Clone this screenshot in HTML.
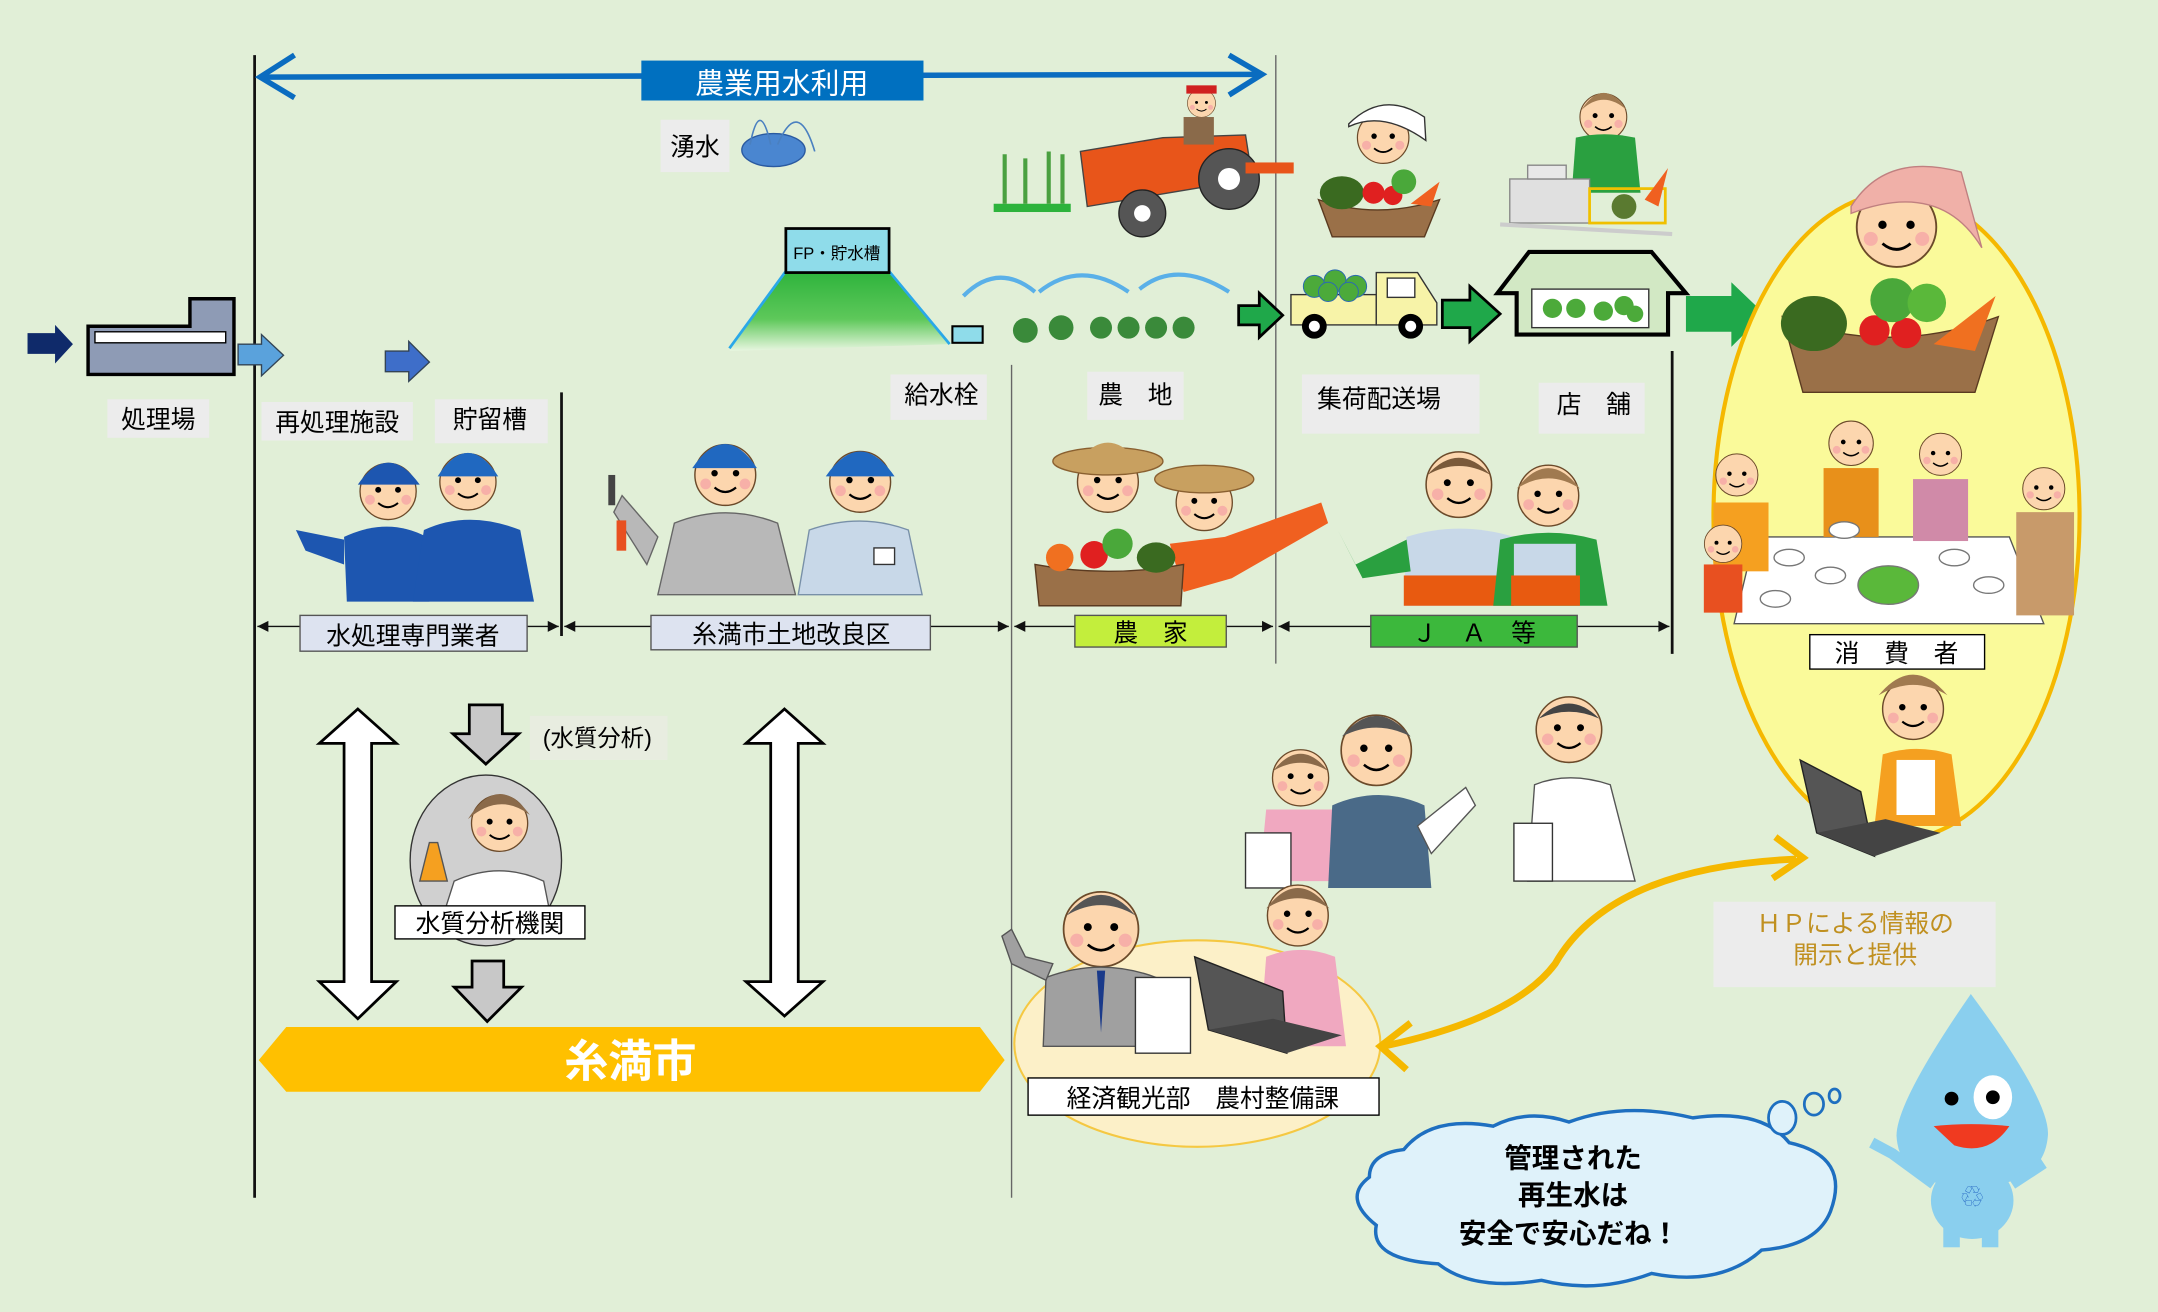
<!DOCTYPE html>
<html><head><meta charset="utf-8">
<style>
html,body{margin:0;padding:0;background:#e1efd7;}
svg{display:block;}
text{font-family:"Liberation Sans","Noto Sans CJK JP",sans-serif;}
</style></head>
<body>
<svg width="2158" height="1312" viewBox="0 0 1568 953" preserveAspectRatio="none" xmlns="http://www.w3.org/2000/svg">
<defs>
<g id="face">
  <circle cx="0" cy="0" r="17" fill="#fcd6ae" stroke="#6b4a2a" stroke-width="0.8"/>
  <circle cx="-6" cy="-1" r="1.8" fill="#000"/><circle cx="6" cy="-1" r="1.8" fill="#000"/>
  <path d="M-6,7 Q0,12 6,7" fill="none" stroke="#000" stroke-width="1.2"/>
  <circle cx="-11" cy="5" r="3" fill="#f7b0a8"/><circle cx="11" cy="5" r="3" fill="#f7b0a8"/>
</g>
</defs>
<rect x="0" y="0" width="1568" height="953" fill="#e1efd7"/>

<!-- vertical lines -->
<line x1="185" y1="40" x2="185" y2="870" stroke="#111" stroke-width="2"/>
<line x1="408" y1="285" x2="408" y2="462" stroke="#111" stroke-width="2"/>
<line x1="735" y1="265" x2="735" y2="870" stroke="#666" stroke-width="1"/>
<line x1="927" y1="40" x2="927" y2="482" stroke="#666" stroke-width="1"/>
<line x1="1215" y1="255" x2="1215" y2="475" stroke="#111" stroke-width="2"/>

<!-- top blue double arrow -->
<line x1="190" y1="56" x2="915" y2="54" stroke="#0a6cc0" stroke-width="4"/>
<path d="M214,40 L189,56 L214,71" fill="none" stroke="#0a6cc0" stroke-width="4"/>
<path d="M893,40 L917,54 L893,69" fill="none" stroke="#0a6cc0" stroke-width="4"/>
<rect x="466" y="44" width="205" height="29" fill="#0070c0"/>
<text x="568" y="68" font-size="21" fill="#fff" text-anchor="middle">農業用水利用</text>

<!-- 湧水 -->
<rect x="480" y="87" width="50" height="38" fill="#ececec"/>
<text x="505" y="113" font-size="18" text-anchor="middle">湧水</text>
<ellipse cx="562" cy="109" rx="23" ry="12" fill="#4a86d0" stroke="#2a5aa0"/>
<path d="M545,105 Q552,70 560,105 M565,105 Q580,70 592,110" fill="none" stroke="#4a80c0" stroke-width="1.2"/>

<!-- treatment plant -->
<path d="M20,242 L40,242 L40,236 L53,250 L40,264 L40,257 L20,257 Z" fill="#0f2a6a"/>
<path d="M64,237 L138,237 L138,217 L170,217 L170,272 L64,272 Z" fill="#8e9bb5" stroke="#000" stroke-width="2.5"/>
<rect x="69" y="241" width="95" height="8" fill="#fff" stroke="#000"/>
<path d="M173,250 L190,250 L190,243 L206,258 L190,273 L190,265 L173,265 Z" fill="#5aa2dc" stroke="#345"/>
<path d="M280,255 L297,255 L297,248 L312,263 L297,277 L297,270 L280,270 Z" fill="#3e6ec9" stroke="#345"/>
<rect x="78" y="290" width="74" height="28" fill="#ececec"/>
<text x="115" y="311" font-size="18" text-anchor="middle">処理場</text>
<rect x="190" y="292" width="110" height="28" fill="#ececec"/>
<text x="245" y="313" font-size="18" text-anchor="middle">再処理施設</text>
<rect x="316" y="290" width="82" height="32" fill="#ececec"/>
<text x="356" y="311" font-size="18" text-anchor="middle">貯留槽</text>

<!-- FP tank -->
<defs><linearGradient id="gr" x1="0" y1="0" x2="0" y2="1"><stop offset="0" stop-color="#2db33c"/><stop offset="0.6" stop-color="#5ec85a"/><stop offset="1" stop-color="#e8f6e0"/></linearGradient></defs>
<path d="M571,197 L646,197 L690,250 L530,255 Z" fill="url(#gr)"/>
<path d="M571,197 L530,253 M646,197 L690,250" stroke="#2aa8e8" stroke-width="2"/>
<rect x="571" y="166" width="75" height="32" fill="#8fdcea" stroke="#000" stroke-width="2"/>
<text x="608" y="188" font-size="12" text-anchor="middle">FP・貯水槽</text>
<rect x="692" y="237" width="22" height="12" fill="#8fdcea" stroke="#000" stroke-width="1.5"/>

<!-- sprinklers & crops -->
<g fill="none" stroke="#5ab0e8" stroke-width="3">
<path d="M700,215 Q725,190 752,212"/><path d="M755,212 Q785,188 820,212"/><path d="M828,210 Q855,188 893,212"/>
</g>
<g fill="#3a8a3a"><circle cx="745" cy="240" r="9"/><circle cx="771" cy="238" r="9"/><circle cx="800" cy="238" r="8"/><circle cx="820" cy="238" r="8"/><circle cx="840" cy="238" r="8"/><circle cx="860" cy="238" r="8"/></g>
<rect x="722" y="148" width="56" height="6" fill="#2db33c"/>
<g stroke="#4aa040" stroke-width="3"><line x1="730" y1="148" x2="730" y2="112"/><line x1="745" y1="148" x2="745" y2="115"/><line x1="762" y1="148" x2="762" y2="110"/><line x1="772" y1="148" x2="772" y2="112"/></g>
<!-- tractor -->
<path d="M785,110 L845,100 L905,98 L910,130 L850,140 L790,150 Z" fill="#e8551a" stroke="#444"/>
<circle cx="830" cy="155" r="17" fill="#555" stroke="#222"/><circle cx="830" cy="155" r="6" fill="#fff"/>
<circle cx="893" cy="130" r="22" fill="#555" stroke="#222"/><circle cx="893" cy="130" r="8" fill="#fff"/>
<rect x="905" y="118" width="35" height="8" fill="#e8551a"/>
<use href="#face" transform="translate(873,75) scale(0.6)"/>
<rect x="862" y="62" width="22" height="6" fill="#d02020"/>
<rect x="860" y="85" width="22" height="20" fill="#8a6a4a"/>

<!-- 給水栓 / 農地 -->
<rect x="647" y="272" width="70" height="33" fill="#ececec"/>
<text x="684" y="293" font-size="18" text-anchor="middle">給水栓</text>
<rect x="790" y="270" width="70" height="35" fill="#ececec"/>
<text x="825" y="293" font-size="18" text-anchor="middle">農　地</text>

<!-- green arrows -->
<path d="M900,222 L915,222 L915,213 L932,229 L915,245 L915,236 L900,236 Z" fill="#1fa84a" stroke="#000" stroke-width="2"/>
<path d="M1048,218 L1068,218 L1068,208 L1090,228 L1068,248 L1068,238 L1048,238 Z" fill="#1fa84a" stroke="#000" stroke-width="2"/>
<path d="M1225,215 L1258,215 L1258,205 L1282,228 L1258,252 L1258,241 L1225,241 Z" fill="#1fa84a"/>

<!-- truck -->
<rect x="938" y="214" width="62" height="22" fill="#f7f3a8" stroke="#333"/>
<path d="M1000,198 L1030,198 L1044,220 L1044,236 L1000,236 Z" fill="#f7f3a8" stroke="#333"/>
<rect x="1008" y="202" width="20" height="14" fill="#fff" stroke="#333"/>
<circle cx="955" cy="237" r="9" fill="#000"/><circle cx="955" cy="237" r="4" fill="#fff"/>
<circle cx="1025" cy="237" r="9" fill="#000"/><circle cx="1025" cy="237" r="4" fill="#fff"/>
<g fill="#4caa3a" stroke="#2a6ab0" stroke-width="0.7"><circle cx="955" cy="208" r="8"/><circle cx="970" cy="204" r="8"/><circle cx="985" cy="208" r="8"/><circle cx="965" cy="212" r="7"/><circle cx="980" cy="212" r="7"/></g>
<!-- store building -->
<path d="M1088,213 L1111,183 L1200,183 L1225,213 L1212,213 L1212,243 L1102,243 L1102,213 Z" fill="#d2e8c4" stroke="#000" stroke-width="3"/>
<rect x="1113" y="210" width="85" height="28" fill="#fff" stroke="#333"/>
<g fill="#4caa3a"><circle cx="1128" cy="224" r="7"/><circle cx="1145" cy="224" r="7"/><circle cx="1165" cy="226" r="7"/><circle cx="1180" cy="222" r="7"/><circle cx="1188" cy="228" r="6"/></g>

<!-- JA woman with basket -->
<use href="#face" transform="translate(1005,100) scale(1.1)"/>
<path d="M980,90 Q1005,65 1035,85 L1036,102 Q1005,80 980,92 Z" fill="#fff" stroke="#333"/>
<path d="M958,145 Q1000,160 1046,145 L1035,172 L968,172 Z" fill="#9a7048" stroke="#5a3a20"/>
<ellipse cx="975" cy="140" rx="16" ry="12" fill="#3a6a20"/>
<circle cx="998" cy="140" r="8" fill="#e02020"/><circle cx="1012" cy="142" r="7" fill="#e02020"/>
<circle cx="1020" cy="132" r="9" fill="#4aa83a"/><path d="M1025,148 L1046,132 L1040,150 Z" fill="#f06020"/>
<!-- cashier -->
<use href="#face" transform="translate(1165,85) scale(1.0)"/>
<path d="M1149,80 Q1165,55 1182,80 Q1165,65 1149,80 Z" fill="#a07a50"/>
<path d="M1145,100 Q1165,95 1188,100 L1192,140 L1142,140 Z" fill="#2aa040"/>
<rect x="1097" y="130" width="58" height="32" fill="#e0e0e0" stroke="#888"/>
<rect x="1110" y="120" width="28" height="10" fill="#e8e8e8" stroke="#888"/>
<rect x="1155" y="137" width="55" height="25" fill="none" stroke="#f0c000" stroke-width="2"/>
<circle cx="1180" cy="150" r="9" fill="#5a7a30"/><path d="M1195,145 L1212,122 L1205,150 Z" fill="#f06020"/>
<path d="M1090,163 L1215,170" stroke="#ccc" stroke-width="3"/>

<!-- 集荷配送場 / 店舗 -->
<rect x="946" y="272" width="129" height="43" fill="#ececec"/>
<text x="1002" y="296" font-size="18" text-anchor="middle">集荷配送場</text>
<rect x="1118" y="278" width="77" height="37" fill="#ececec"/>
<text x="1158" y="300" font-size="18" text-anchor="middle">店　舗</text>

<!-- consumer ellipse -->
<ellipse cx="1378" cy="375" rx="133" ry="235" fill="#fafa9a" stroke="#f5b800" stroke-width="3"/>
<use href="#face" transform="translate(1378,165) scale(1.7)"/>
<path d="M1345,150 Q1370,110 1425,125 L1440,180 Q1410,130 1345,155 Z" fill="#f0b0a8" stroke="#c08080"/>
<path d="M1295,230 Q1370,260 1452,230 L1435,285 L1310,285 Z" fill="#9a7048" stroke="#5a3a20"/>
<ellipse cx="1318" cy="235" rx="24" ry="20" fill="#3a6a20"/>
<circle cx="1362" cy="240" r="11" fill="#e02020"/><circle cx="1385" cy="242" r="11" fill="#e02020"/>
<circle cx="1375" cy="218" r="16" fill="#4aa83a"/><circle cx="1400" cy="220" r="14" fill="#5ab83a"/>
<path d="M1405,250 L1450,215 L1435,255 Z" fill="#f07020"/>
<!-- family table -->
<path d="M1275,390 L1460,390 L1485,453 L1260,453 Z" fill="#fff" stroke="#555"/>
<use href="#face" transform="translate(1262,345) scale(0.9)"/>
<rect x="1245" y="365" width="40" height="50" fill="#f5a020"/>
<use href="#face" transform="translate(1345,322) scale(0.95)"/>
<rect x="1325" y="340" width="40" height="50" fill="#e8901a"/>
<use href="#face" transform="translate(1410,330) scale(0.9)"/>
<rect x="1390" y="348" width="40" height="45" fill="#d08aa8"/>
<use href="#face" transform="translate(1485,355) scale(0.9)"/>
<rect x="1465" y="372" width="42" height="75" fill="#c89a6a"/>
<use href="#face" transform="translate(1252,395) scale(0.8)"/>
<rect x="1238" y="410" width="28" height="35" fill="#e85020"/>
<g fill="#fff" stroke="#777"><ellipse cx="1340" cy="385" rx="11" ry="6"/><ellipse cx="1300" cy="405" rx="11" ry="6"/><ellipse cx="1330" cy="418" rx="11" ry="6"/><ellipse cx="1290" cy="435" rx="11" ry="6"/><ellipse cx="1420" cy="405" rx="11" ry="6"/><ellipse cx="1445" cy="425" rx="11" ry="6"/></g>
<ellipse cx="1372" cy="425" rx="22" ry="14" fill="#5ab83a" stroke="#777"/>
<rect x="1315" y="461" width="127" height="25" fill="#fff" stroke="#000"/>
<text x="1378" y="481" font-size="18" text-anchor="middle">消　費　者</text>
<!-- woman with laptop -->
<use href="#face" transform="translate(1390,515) scale(1.3)"/>
<path d="M1365,505 Q1390,475 1415,505 Q1390,490 1365,505 Z" fill="#a07a50"/>
<path d="M1368,548 Q1392,540 1418,548 L1425,600 L1362,600 Z" fill="#f5a020"/>
<rect x="1378" y="552" width="28" height="40" fill="#fff"/>
<path d="M1308,552 L1352,575 L1362,622 L1320,605 Z" fill="#555" stroke="#222"/>
<path d="M1320,605 L1362,622 L1410,605 L1370,595 Z" fill="#444"/>

<!-- bracket row -->
<g stroke="#111" stroke-width="1">
<line x1="187" y1="455" x2="406" y2="455"/><line x1="410" y1="455" x2="733" y2="455"/>
<line x1="737" y1="455" x2="925" y2="455"/><line x1="929" y1="455" x2="1213" y2="455"/>
</g>
<g fill="#111">
<path d="M187,455 L195,451 L195,459 Z"/><path d="M406,455 L398,451 L398,459 Z"/>
<path d="M410,455 L418,451 L418,459 Z"/><path d="M733,455 L725,451 L725,459 Z"/>
<path d="M737,455 L745,451 L745,459 Z"/><path d="M925,455 L917,451 L917,459 Z"/>
<path d="M929,455 L937,451 L937,459 Z"/><path d="M1213,455 L1205,451 L1205,459 Z"/>
</g>

<!-- workers -->
<g>
<use href="#face" transform="translate(282,357) scale(1.2)"/>
<path d="M260,352 Q282,320 305,352 Z" fill="#1d56b0"/>
<path d="M250,390 Q282,375 310,390 L312,437 L252,437 Z" fill="#1d56b0"/>
<path d="M250,392 L215,385 L222,400 L250,410 Z" fill="#1d56b0"/>
<use href="#face" transform="translate(340,350) scale(1.2)"/>
<path d="M318,346 Q340,312 362,346 Z" fill="#2068c0"/>
<path d="M308,385 Q340,370 378,385 L388,437 L300,437 Z" fill="#1d56b0"/>
</g>
<g>
<use href="#face" transform="translate(527,345) scale(1.3)"/>
<path d="M503,340 Q527,305 550,340 Z" fill="#2068c0"/>
<path d="M490,380 Q527,365 565,380 L578,432 L478,432 Z" fill="#b8b8b8" stroke="#666"/>
<path d="M478,390 L452,360 L446,372 L470,410 Z" fill="#b8b8b8" stroke="#666"/>
<rect x="442" y="345" width="5" height="22" fill="#444"/><rect x="448" y="378" width="7" height="22" fill="#e85020"/>
<use href="#face" transform="translate(625,350) scale(1.3)"/>
<path d="M600,346 Q625,310 650,346 Z" fill="#2068c0"/>
<path d="M588,385 Q625,372 660,385 L670,432 L580,432 Z" fill="#c8d8e8" stroke="#7890a8"/>
<rect x="635" y="398" width="15" height="12" fill="#fff" stroke="#333"/>
</g>
<rect x="218" y="447" width="165" height="26" fill="#dde3f0" stroke="#555"/>
<text x="300" y="468" font-size="18" text-anchor="middle">水処理専門業者</text>
<rect x="473" y="447" width="203" height="25" fill="#dde3f0" stroke="#555"/>
<text x="575" y="467" font-size="18" text-anchor="middle">糸満市土地改良区</text>

<!-- farmers -->
<use href="#face" transform="translate(805,350) scale(1.3)"/>
<ellipse cx="805" cy="335" rx="40" ry="10" fill="#c8a060" stroke="#8a6030"/>
<path d="M785,333 Q805,310 825,333 Z" fill="#c8a060"/>
<use href="#face" transform="translate(875,365) scale(1.2)"/>
<ellipse cx="875" cy="348" rx="36" ry="10" fill="#c8a060" stroke="#8a6030"/>
<path d="M850,395 L890,390 L960,365 L965,380 L895,420 L860,430 Z" fill="#f06020"/>
<path d="M752,410 Q805,420 860,410 L858,440 L755,440 Z" fill="#9a7048" stroke="#5a3a20"/>
<circle cx="770" cy="405" r="10" fill="#f07020"/><circle cx="795" cy="403" r="10" fill="#e02020"/><circle cx="812" cy="395" r="11" fill="#4aa83a"/><ellipse cx="840" cy="405" rx="14" ry="11" fill="#3a6a20"/>
<rect x="781" y="447" width="110" height="23" fill="#c3ee3c" stroke="#555"/>
<text x="836" y="466" font-size="18" text-anchor="middle">農　家</text>

<!-- JA staff -->
<use href="#face" transform="translate(1060,352) scale(1.4)"/>
<path d="M1037,345 Q1060,320 1083,345 Q1060,332 1037,345 Z" fill="#7a5a3a"/>
<path d="M1022,390 Q1060,378 1100,390 L1100,440 L1020,440 Z" fill="#c8d8e8"/>
<rect x="1020" y="418" width="80" height="22" fill="#e85a10"/>
<path d="M1022,392 L985,410 L972,385 L990,420 L1025,415 Z" fill="#2aa040"/>
<use href="#face" transform="translate(1125,360) scale(1.3)"/>
<path d="M1102,355 Q1125,325 1148,355 Q1125,340 1102,355 Z" fill="#a07a50"/>
<path d="M1090,392 Q1125,382 1160,392 L1168,440 L1085,440 Z" fill="#2aa040"/>
<rect x="1100" y="395" width="45" height="25" fill="#c8d8e8"/>
<rect x="1098" y="418" width="50" height="22" fill="#e85a10"/>
<rect x="996" y="447" width="150" height="23" fill="#3cb83c" stroke="#555"/>
<text x="1071" y="466" font-size="18" text-anchor="middle">Ｊ　Ａ　等</text>

<!-- lower left arrows -->
<path d="M260,515 L288,540 L270,540 L270,713 L288,713 L260,740 L232,713 L250,713 L250,540 L232,540 Z" fill="#fff" stroke="#000" stroke-width="2"/>
<path d="M570,515 L598,540 L580,540 L580,713 L598,713 L570,738 L542,713 L560,713 L560,540 L542,540 Z" fill="#fff" stroke="#000" stroke-width="2"/>
<path d="M341,512 L365,512 L365,533 L377,533 L353,555 L329,533 L341,533 Z" fill="#c8c8c8" stroke="#000" stroke-width="2"/>
<path d="M343,698 L366,698 L366,717 L379,717 L354,742 L330,717 L343,717 Z" fill="#c8c8c8" stroke="#000" stroke-width="2"/>
<rect x="385" y="520" width="100" height="32" fill="#e8ede0"/>
<text x="434" y="542" font-size="17" text-anchor="middle">(水質分析)</text>
<ellipse cx="353" cy="625" rx="55" ry="62" fill="#d0d0d0" stroke="#333"/>
<use href="#face" transform="translate(363,598) scale(1.2)"/>
<path d="M340,595 Q362,560 385,592 Q363,575 340,595 Z" fill="#8a6a4a"/>
<path d="M330,640 Q363,625 395,640 L400,665 L322,665 Z" fill="#fff" stroke="#555"/>
<path d="M305,640 L312,612 L318,612 L325,640 Z" fill="#f5a020" stroke="#555"/>
<rect x="287" y="658" width="138" height="24" fill="#fff" stroke="#000"/>
<text x="356" y="677" font-size="18" text-anchor="middle">水質分析機関</text>

<!-- 糸満市 banner -->
<path d="M208,746 L712,746 L730,770 L712,793 L208,793 L188,770 Z" fill="#ffc000"/>
<text x="458" y="782" font-size="32" fill="#fff" text-anchor="middle" font-weight="bold">糸満市</text>

<!-- office group -->
<use href="#face" transform="translate(945,565) scale(1.2)"/>
<path d="M925,560 Q945,535 965,560 Q945,548 925,560 Z" fill="#8a6a4a"/>
<path d="M920,588 L968,588 L972,640 L915,640 Z" fill="#f0a8c0"/>
<rect x="905" y="605" width="33" height="40" fill="#fff" stroke="#333"/>
<use href="#face" transform="translate(1000,545) scale(1.5)"/>
<path d="M975,535 Q1000,505 1025,535 Q1000,522 975,535 Z" fill="#555"/>
<path d="M968,585 Q1002,570 1035,585 L1040,645 L965,645 Z" fill="#4a6a88"/>
<path d="M1030,600 L1065,572 L1072,585 L1040,620 Z" fill="#fff" stroke="#555"/>
<use href="#face" transform="translate(1140,530) scale(1.4)"/>
<path d="M1118,522 Q1140,500 1162,522 Q1140,512 1118,522 Z" fill="#444"/>
<path d="M1115,570 Q1140,560 1170,570 L1188,640 L1110,640 Z" fill="#fff" stroke="#555"/>
<rect x="1100" y="598" width="28" height="42" fill="#fff" stroke="#333"/>

<ellipse cx="870" cy="758" rx="133" ry="75" fill="#fcf0c8" stroke="#f5c842" stroke-width="1.5"/>
<use href="#face" transform="translate(800,675) scale(1.6)"/>
<path d="M775,665 Q800,635 825,665 Q800,650 775,665 Z" fill="#555"/>
<path d="M760,710 Q800,695 840,710 L845,760 L758,760 Z" fill="#a0a0a0" stroke="#555"/>
<path d="M797,705 L800,750 L803,705 Z" fill="#1a3a8a"/>
<path d="M760,712 L735,700 L728,680 L735,675 L745,695 L765,700 Z" fill="#a0a0a0" stroke="#555"/>
<rect x="825" y="710" width="40" height="55" fill="#fff" stroke="#333"/>
<use href="#face" transform="translate(943,665) scale(1.3)"/>
<path d="M920,660 Q943,630 966,660 Q943,645 920,660 Z" fill="#8a6a4a"/>
<path d="M920,695 Q945,685 970,695 L978,760 L915,760 Z" fill="#f0a8c0"/>
<path d="M868,695 L932,720 L935,765 L878,748 Z" fill="#555" stroke="#222"/>
<path d="M878,748 L935,765 L975,752 L925,740 Z" fill="#444"/>
<rect x="747" y="783" width="255" height="27" fill="#fff" stroke="#000"/>
<text x="874" y="804" font-size="18" text-anchor="middle">経済観光部　農村整備課</text>

<!-- orange curved double arrow -->
<path d="M1005,760 Q1100,740 1130,700 Q1170,630 1305,624" fill="none" stroke="#f5b800" stroke-width="5"/>
<path d="M1025,743 L1003,760 L1022,777" fill="none" stroke="#f5b800" stroke-width="5"/>
<path d="M1290,608 L1310,623 L1288,638" fill="none" stroke="#f5b800" stroke-width="5"/>
<rect x="1245" y="655" width="205" height="62" fill="#ececec"/>
<text x="1348" y="677" font-size="18" fill="#c09020" text-anchor="middle">ＨＰによる情報の</text>
<text x="1348" y="700" font-size="18" fill="#c09020" text-anchor="middle">開示と提供</text>

<!-- cloud -->
<path d="M1020,835 Q1040,810 1085,818 Q1110,805 1140,815 Q1180,800 1230,812 Q1280,805 1300,830 Q1345,840 1330,880 Q1320,905 1280,908 Q1250,935 1200,925 Q1160,940 1120,930 Q1070,938 1045,918 Q995,915 1000,890 Q975,870 995,855 Q995,838 1020,835 Z" fill="#dff2fa" stroke="#1e6fc0" stroke-width="2.5"/>
<ellipse cx="1295" cy="812" rx="10" ry="12" fill="#dff2fa" stroke="#1e6fc0" stroke-width="2"/>
<ellipse cx="1318" cy="802" rx="7" ry="8" fill="none" stroke="#1e6fc0" stroke-width="2"/>
<ellipse cx="1333" cy="796" rx="4" ry="5" fill="none" stroke="#1e6fc0" stroke-width="2"/>
<text x="1143" y="848" font-size="20" font-weight="bold" text-anchor="middle">管理された</text>
<text x="1143" y="875" font-size="20" font-weight="bold" text-anchor="middle">再生水は</text>
<text x="1140" y="903" font-size="20" font-weight="bold" text-anchor="middle">安全で安心だね！</text>

<!-- water drop character -->
<path d="M1432,722 Q1490,800 1488,825 Q1485,862 1432,862 Q1380,862 1378,825 Q1378,800 1432,722 Z" fill="#8acfee"/>
<ellipse cx="1433" cy="872" rx="30" ry="28" fill="#8acfee"/>
<rect x="1412" y="890" width="12" height="16" fill="#8acfee"/><rect x="1440" y="890" width="12" height="16" fill="#8acfee"/>
<path d="M1405,860 L1375,838 L1360,830" stroke="#8acfee" stroke-width="8" fill="none"/>
<path d="M1462,860 L1485,845" stroke="#8acfee" stroke-width="8" fill="none"/>
<circle cx="1418" cy="798" r="5" fill="#000"/>
<ellipse cx="1448" cy="797" rx="14" ry="16" fill="#fff"/><circle cx="1448" cy="797" r="5" fill="#000"/>
<path d="M1405,818 Q1432,815 1460,818 Q1445,840 1420,832 Z" fill="#f03a20"/>
<text x="1433" y="875" font-size="16" fill="#1e5fc0" text-anchor="middle">♲</text>
</svg>
</body></html>
